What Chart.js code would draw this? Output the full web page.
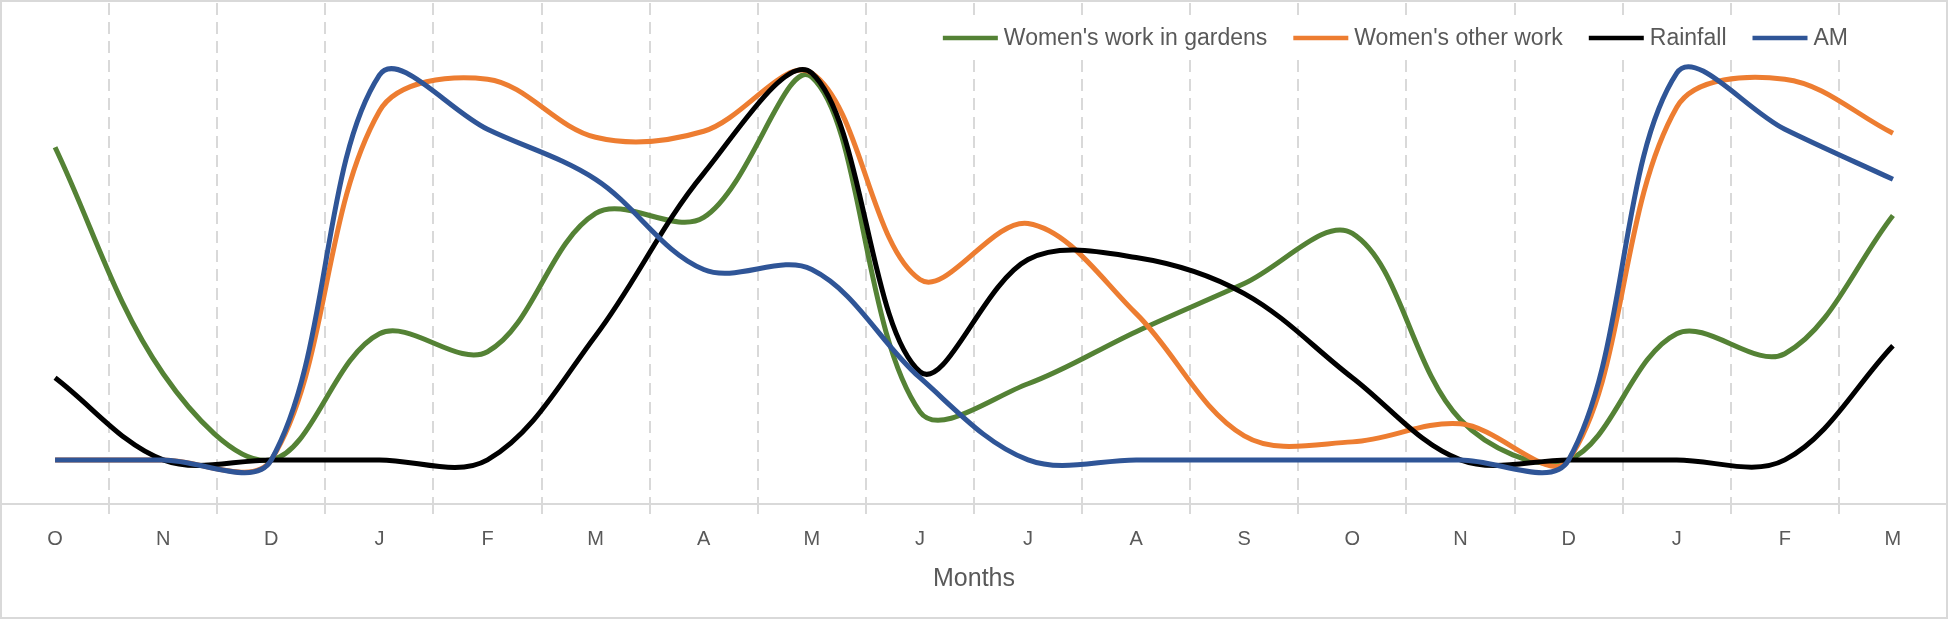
<!DOCTYPE html>
<html>
<head>
<meta charset="utf-8">
<script src="https://cdn.jsdelivr.net/npm/chart.js@4/dist/chart.umd.min.js"></script>
<style>
  html, body { margin: 0; padding: 0; background: #fff; }
  #wrap { width: 1948px; height: 619px; position: relative; }
</style>
</head>
<body>
<div id="wrap"><canvas id="chart"></canvas></div>
<script>
const months = ['O', 'N', 'D', 'J', 'F', 'M', 'A', 'M', 'J', 'J', 'A', 'S', 'O', 'N', 'D', 'J', 'F', 'M']

const gardenWork = [78, 21.5, 0, 31.5, 27, 61.5, 60.5, 95.5, 12, 19, 32, 44, 56.5, 10, 0, 31.5, 26.5, 61]
const otherWork = [0, 0, 0, 87, 95, 80.5, 82, 96.5, 45, 59, 36.5, 6, 4.5, 9, 0, 88, 95, 81.5]
const rainfall = [20.5, 0, 0, 0, 0, 31, 71.5, 96.5, 22, 50, 50.5, 41.5, 20.5, 0, 0, 0, 0, 28.5]
const am = [0, 0, 0, 96, 82.5, 70, 47.5, 47.5, 20.5, 0, 0, 0, 0, 0, 0, 96.5, 82.5, 70]

const FONT = "'Liberation Sans', Arial, sans-serif"
const GREY = '#595959'

// excel style legend drawn over the plot area, with line samples
const lineLegend = {
  id: 'lineLegend',
  afterDatasetsDraw(chart) {
    const ctx = chart.ctx
    const items = chart.data.datasets
    const sample = 55
    const gap = 6
    const spacing = 26
    ctx.save()
    ctx.font = '23px ' + FONT
    let total = 0
    items.forEach((ds, i) => {
      total += sample + gap + ctx.measureText(ds.label).width
      if (i < items.length - 1) total += spacing
    })
    const right = 1848
    const y = 38
    let x = right - total
    ctx.fillStyle = '#fff'
    ctx.fillRect(x - 8, y - 17, total + 16, 34)
    ctx.textBaseline = 'middle'
    items.forEach(ds => {
      ctx.strokeStyle = ds.borderColor
      ctx.lineWidth = 4.5
      ctx.beginPath()
      ctx.moveTo(x, y)
      ctx.lineTo(x + sample, y)
      ctx.stroke()
      x += sample + gap
      ctx.fillStyle = GREY
      ctx.fillText(ds.label, x, y + 1)
      x += ctx.measureText(ds.label).width + spacing
    })
    ctx.restore()
  }
}

const chartBorder = {
  id: 'chartBorder',
  afterDraw(chart) {
    const ctx = chart.ctx
    ctx.save()
    ctx.strokeStyle = '#d9d9d9'
    ctx.lineWidth = 2
    ctx.strokeRect(1, 1, chart.width - 2, chart.height - 2)
    ctx.restore()
  }
}

function series(label, data, color, order) {
  return {
    label,
    data,
    borderColor: color,
    backgroundColor: color,
    borderWidth: 5,
    pointRadius: 0,
    tension: 0.35,
    fill: false,
    order
  }
}

new Chart(document.getElementById('chart'), {
  type: 'line',
  data: {
    labels: months,
    datasets: [
      series("Women's work in gardens", gardenWork, '#548235', 3),
      series("Women's other work", otherWork, '#ED7D31', 2),
      series('Rainfall', rainfall, '#000000', 1),
      series('AM', am, '#2F5597', 0)
    ]
  },
  options: {
    responsive: true,
    maintainAspectRatio: false,
    animation: false,
    devicePixelRatio: 1,
    layout: { padding: { left: 1, right: 1, top: 3, bottom: 0 } },
    plugins: {
      legend: { display: false },
      tooltip: { enabled: false }
    },
    scales: {
      x: {
        offset: true,
        grid: {
          offset: true,
          color: '#d9d9d9',
          lineWidth: 2,
          tickLength: 10,
          tickBorderDash: []
        },
        border: { display: true, color: '#d9d9d9', width: 2, dash: [12, 7] },
        ticks: {
          color: GREY,
          font: { family: FONT, size: 20 },
          padding: 13,
          autoSkip: false,
          maxRotation: 0
        },
        title: {
          display: true,
          text: 'Months',
          color: GREY,
          font: { family: FONT, size: 25 },
          padding: { top: 0, bottom: 25 }
        }
      },
      y: {
        display: false,
        min: -11,
        max: 114
      }
    }
  },
  plugins: [lineLegend, chartBorder]
})
</script>
</body>
</html>
